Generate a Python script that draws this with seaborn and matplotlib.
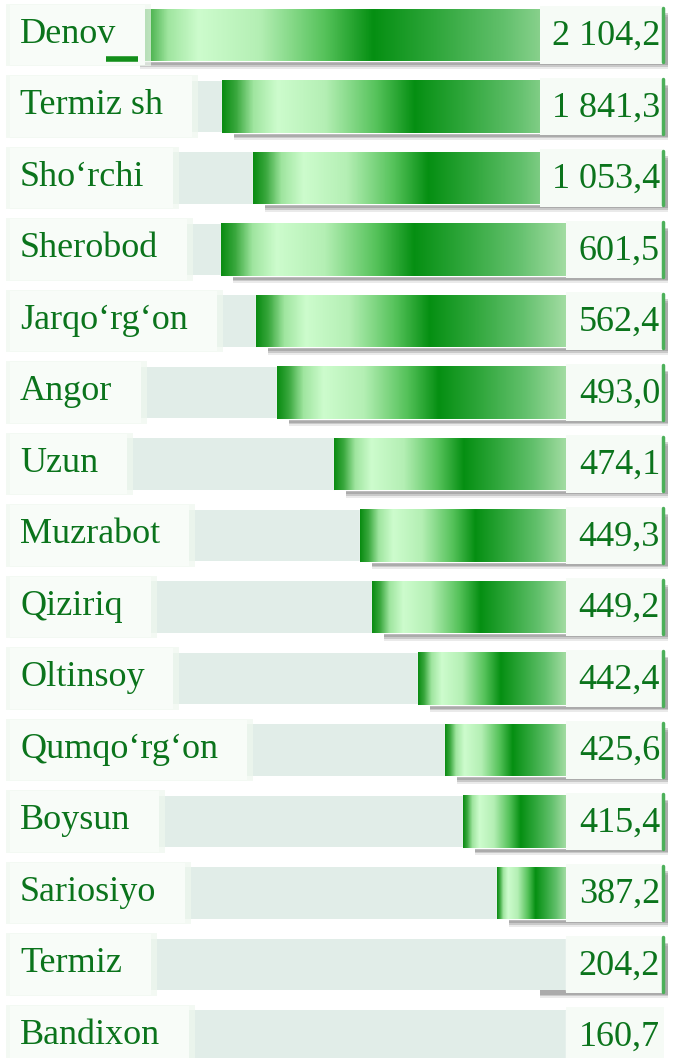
import numpy as np
import pandas as pd
import matplotlib
matplotlib.use("Agg")
import matplotlib.pyplot as plt
import seaborn as sns
from matplotlib.patches import Rectangle
from matplotlib.colors import LinearSegmentedColormap

# tumanlar va qiymatlar
regions = ["Denov", "Termiz sh", "Sho\u2018rchi", "Sherobod", "Jarqo\u2018rg\u2018on",
           "Angor", "Uzun", "Muzrabot", "Qiziriq", "Oltinsoy",
           "Qumqo\u2018rg\u2018on", "Boysun", "Sariosiyo", "Termiz", "Bandixon"]
values = ["2 104,2", "1 841,3", "1 053,4", "601,5", "562,4",
          "493,0", "474,1", "449,3", "449,2", "442,4",
          "425,6", "415,4", "387,2", "204,2", "160,7"]
# chizilgan ustun uzunliklari (rasmdan o'qilgan, shartli birlik)
bar_len = [438, 344, 313, 345, 310, 289, 232, 206, 194, 148, 121, 103, 69, 0, 0]

df = pd.DataFrame({"region": regions, "bar_len": bar_len})

sns.set_theme(style="white")
plt.rcParams["font.family"] = ["Liberation Serif", "DejaVu Serif"]

txt_col = "#0b741c"
band_col = "#e1ede8"
grad = LinearSegmentedColormap.from_list("g", [
    (0.00, "#0a8c12"), (0.04, "#3aa83e"), (0.09, "#9fe59f"), (0.16, "#cdfccd"),
    (0.30, "#b4efb4"), (0.45, "#55c25a"), (0.56, "#058f12"), (0.70, "#2ea63a"),
    (0.86, "#62c06c"), (1.00, "#a2dca2")])

fig = plt.figure(figsize=(6.8, 10.58), dpi=100)
ax = fig.add_axes([0, 0, 1, 1])
sns.barplot(data=df, x="bar_len", y="region", orient="h", ax=ax,
            width=0.73, color="#2ea63a", zorder=3)

h = 0.73
for i, p in enumerate(ax.patches):
    L = p.get_width()
    # kulrang fon tasmasi
    ax.add_patch(Rectangle((0, i - 0.36), 548, 0.72, color=band_col, zorder=0, lw=0))
    # soya
    if i < len(regions) - 1:
        x0 = L - 12 if L > 0 else 26
        for k, a in [(0.11, 0.12), (0.08, 0.22), (0.06, 0.25)]:
            ax.add_patch(Rectangle((-102, i - h / 2 + k), x0 + 102, h,
                                   color="#555555", alpha=a, lw=0, zorder=1))
        if L == 0:
            ax.add_patch(Rectangle((0, i - 0.36), 40, 0.72, color=band_col, zorder=2, lw=0))
    if L > 0:
        y0 = p.get_y()
        im = ax.imshow(np.linspace(0, 1, 256).reshape(1, -1), cmap=grad, aspect="auto",
                       extent=(L, 0, y0 + p.get_height(), y0), zorder=4)
        im.set_clip_path(p)

# Denov ustuni ostidagi to'q chiziq
ax.plot([bar_len[0] + 22, bar_len[0] - 10], [0.34, 0.34], color="#128f1a", lw=4,
        zorder=6, solid_capstyle="butt")

# qiymat qutilari va yozuvlar
labels = []
for i, (r, v) in enumerate(zip(regions, values)):
    start = 26 if len(v) > 5 else 0
    ax.add_patch(Rectangle((-98, i - 0.40), 98 + start, 0.80, color="#f6fbf6",
                           lw=0, zorder=5))
    if i < len(regions) - 1:
        ax.plot([-96.5, -96.5], [i - 0.38, i + 0.38], color="#4cb05a", lw=2.5, zorder=6)
    ax.text(-94, i + 0.02, v, ha="right", va="center", fontsize=26, color=txt_col, zorder=7)
    labels.append(ax.text(546, i - 0.01, r, ha="left", va="center", fontsize=26,
                          color=txt_col, zorder=7))

fig.canvas.draw()
rend = fig.canvas.get_renderer()
for i, t in enumerate(labels):
    bb = t.get_window_extent(rend)
    right = 566 - (bb.x1 + 16)
    ax.add_patch(Rectangle((right - 6, i - 0.44), 566 - right, 0.88,
                           color="#eef7ee", alpha=0.7, lw=0, zorder=5))
    ax.add_patch(Rectangle((right, i - 0.42), 556 - right, 0.84,
                           color="#f8fcf8", lw=0, zorder=5))

ax.set_xlim(566, -114)
ax.set_ylim(14.308, -0.4895)
ax.set_axis_off()
fig.savefig("out.png", dpi=100)
